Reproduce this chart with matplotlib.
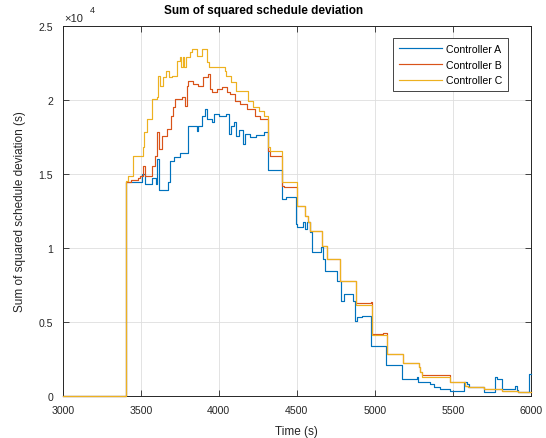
import matplotlib
matplotlib.use("Agg")
import matplotlib.pyplot as plt
from matplotlib.ticker import FuncFormatter

plt.rcParams['font.family'] = ['Liberation Sans', 'DejaVu Sans']

# step data: (time s, value)
t_a = [3000, 3404, 3506, 3528, 3575, 3595, 3606, 3619, 3677, 3688, 3712, 3752,
       3801, 3859, 3870, 3891, 3912, 3927, 3955, 3970, 4000, 4045, 4063, 4080,
       4095, 4110, 4130, 4158, 4170, 4200, 4240, 4290, 4316, 4404, 4430, 4495,
       4500, 4538, 4553, 4564, 4585, 4596, 4656, 4670, 4681, 4756, 4784, 4799,
       4863, 4874, 4885, 4917, 4974, 5073, 5173, 5269, 5275, 5354, 5376, 5419,
       5483, 5568, 5590, 5600, 5696, 5771, 5780, 5814, 5900, 5910, 5920, 5985,
       6000]
a_vals = [0, 14460, 15000, 14320, 14700, 14300, 16010, 13940, 14460, 15900, 16180, 16390,
          18260, 17930, 18260, 18940, 19390, 18720, 18490, 19050, 18900, 19050, 17700, 18260,
          18490, 17590, 17950, 17030, 17700, 17480, 17650, 17820, 15300, 13310, 13430, 11620,
          11400, 11740, 11300, 11740, 11060, 9710, 10100, 9260, 8420, 7790, 6440, 6890,
          6440, 5090, 5320, 5390, 3400, 2110, 1150, 1260, 930, 810, 590, 470,
          360, 930, 780, 630, 270, 1260, 1150, 450, 700, 400, 250, 1490,
          1490]

t_b = [3000, 3404, 3440, 3485, 3495, 3513, 3528, 3570, 3592, 3603, 3619, 3635,
       3667, 3692, 3709, 3720, 3763, 3784, 3795, 3805, 3837, 3869, 3901, 3933,
       3944, 3955, 3987, 4019, 4051, 4072, 4104, 4137, 4179, 4233, 4265, 4318,
       4329, 4404, 4420, 4504, 4553, 4570, 4585, 4660, 4696, 4776, 4880, 4975,
       4980, 5050, 5078, 5183, 5280, 5290, 5300, 5483, 5580, 5597, 5700, 5814,
       5920, 6000]
b_vals = [0, 14460, 14600, 14700, 14890, 15560, 14890, 15560, 16240, 17820, 16690, 17590,
          18040, 18940, 19510, 20070, 20180, 19620, 20970, 21300, 21100, 20970, 21530, 21760,
          20740, 20520, 20740, 20850, 20520, 20410, 19950, 19730, 19390, 18940, 18720, 16580,
          16240, 14210, 14120, 12860, 12180, 11740, 11170, 10160, 9260, 7800, 6250, 6350,
          4200, 4250, 2870, 2260, 1940, 1600, 1400, 930, 650, 590, 470, 360,
          250, 250]

t_c = [3000, 3404, 3421, 3453, 3513, 3523, 3538, 3570, 3605, 3613, 3625, 3640,
       3665, 3680, 3700, 3735, 3750, 3760, 3768, 3775, 3790, 3816, 3830, 3860,
       3895, 3925, 3935, 4040, 4045, 4080, 4110, 4190, 4220, 4260, 4290, 4318,
       4330, 4404, 4504, 4553, 4570, 4585, 4660, 4696, 4776, 4880, 4980, 5078,
       5183, 5280, 5290, 5300, 5483, 5580, 5597, 5700, 5814, 5920, 6000]
c_vals = [0, 14500, 14890, 16240, 16800, 17820, 18720, 20070, 20180, 21640, 20970, 21530,
          21980, 21530, 21640, 22660, 22880, 22200, 22880, 22200, 22880, 23220, 23450, 23000,
          23450, 22550, 22210, 21980, 21640, 21200, 20630, 19950, 19510, 19280, 18940, 16800,
          16520, 14440, 12860, 12180, 11740, 11170, 10160, 9260, 7800, 6150, 4150, 2870,
          2230, 1940, 1600, 1280, 930, 650, 590, 470, 360, 250, 250]

labels = ['Controller A', 'Controller B', 'Controller C']
colors = ['#0072BD', '#D95319', '#EDB120']
dark = '#262626'

fig = plt.figure(figsize=(5.46, 4.39), dpi=100)
ax = fig.add_axes([0.1148, 0.0957, 0.8577, 0.8428])

for t, v, lab, col in zip([t_a, t_b, t_c], [a_vals, b_vals, c_vals], labels, colors):
    ax.plot(t, v, drawstyle='steps-post', color=col, lw=0.85, label=lab,
            zorder=3, clip_on=False)

ax.set_xlim(3000, 6000)
ax.set_ylim(0, 25000)
ax.set_xticks(range(3000, 6001, 500))
ax.set_yticks(range(0, 25001, 5000))
ax.yaxis.set_major_formatter(FuncFormatter(lambda v, p: '%g' % (v / 1e4)))

ax.grid(True, color='#dedede', lw=0.6)
ax.set_axisbelow(True)
for s in ax.spines.values():
    s.set_color(dark)
    s.set_linewidth(0.7)
    s.set_zorder(2.5)
ax.tick_params(direction='in', top=True, right=True, length=4, width=0.6,
               colors=dark, labelsize=7.6)
ax.tick_params(axis='x', pad=6.5)
ax.tick_params(axis='y', pad=7)

ax.set_title('Sum of squared schedule deviation', fontsize=8.5, fontweight='bold',
             x=0.429, pad=9)
ax.set_xlabel('Time (s)', fontsize=8.5, color=dark, labelpad=7)
ax.set_ylabel('Sum of squared schedule deviation (s)', fontsize=8.5, color=dark, labelpad=9)
ax.text(0.003, 1.008, '\u00d710', transform=ax.transAxes, fontsize=8,
        color=dark, ha='left', va='bottom')
ax.text(0.058, 1.032, '4', transform=ax.transAxes, fontsize=6.5,
        color=dark, ha='left', va='bottom')

leg = ax.legend(loc='upper left', bbox_to_anchor=(0.705, 0.9676), borderaxespad=0,
                fontsize=7.6, fancybox=False, edgecolor=dark, framealpha=1,
                handlelength=4.1, handletextpad=0.4, labelspacing=0.55, borderpad=0.55)
leg.get_frame().set_linewidth(0.6)

fig.savefig('out.png', dpi=100)
